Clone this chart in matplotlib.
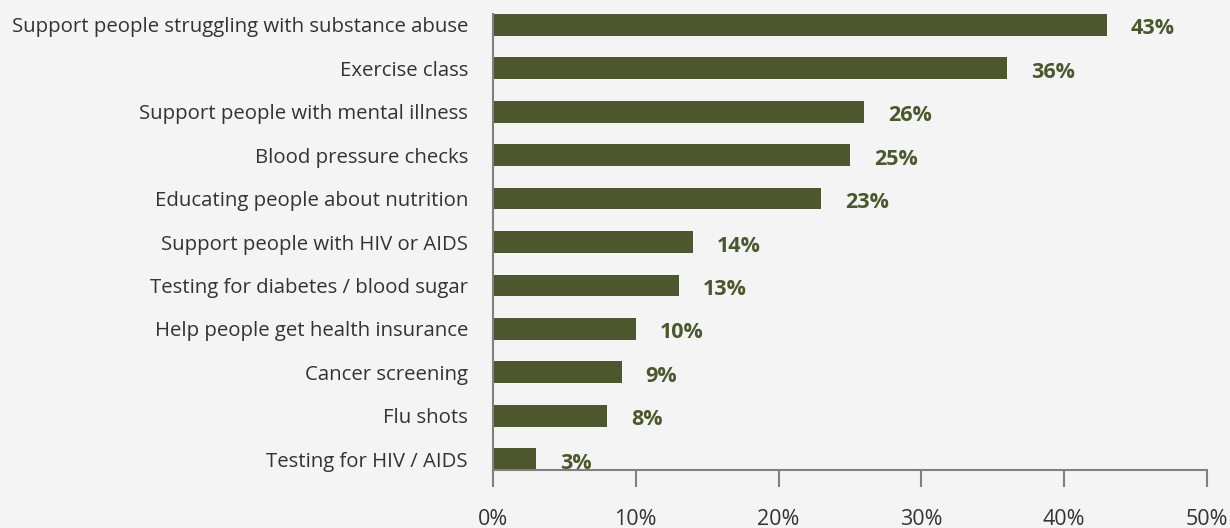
import matplotlib
matplotlib.use("Agg")
import matplotlib.pyplot as plt
from matplotlib.ticker import FixedLocator, FuncFormatter

categories = [
    "Support people struggling with substance abuse",
    "Exercise class",
    "Support people with mental illness",
    "Blood pressure checks",
    "Educating people about nutrition",
    "Support people with HIV or AIDS",
    "Testing for diabetes / blood sugar",
    "Help people get health insurance",
    "Cancer screening",
    "Flu shots",
    "Testing for HIV / AIDS",
]
values = [43, 36, 26, 25, 23, 14, 13, 10, 9, 8, 3]
xticks = [0, 10, 20, 30, 40, 50]

bg = "#f3f4f3"
bar_color = "#4d562c"
text_color = "#333333"
spine_color = "#808080"

plt.rcParams['font.family'] = ['Open Sans', 'DejaVu Sans']

fig = plt.figure(figsize=(12.3, 5.28), dpi=100, facecolor=bg)
ax = fig.add_axes([0.4008, 0.1098, 0.5805, 0.8637], facecolor=bg)

ypos = list(range(len(categories)))
ax.barh(ypos, values, height=0.5, color=bar_color, edgecolor='none')
for y, v in zip(ypos, values):
    ax.annotate(f"{v}%", xy=(v, y), xytext=(24, -4), textcoords='offset pixels',
                ha='left', va='center', fontsize=15.5, fontweight='bold', color=bar_color)

ax.set_ylim(10.25, -0.25)
ax.set_xlim(0, 50)
ax.set_yticks(ypos)
ax.set_yticklabels(categories, fontsize=14.7, color=text_color)
ax.tick_params(axis='y', length=0, pad=18)
ax.xaxis.set_major_locator(FixedLocator(xticks))
ax.xaxis.set_major_formatter(FuncFormatter(lambda x, p: f"{int(x)}%"))
ax.tick_params(axis='x', direction='out', length=12, width=1.5, color=spine_color,
               labelsize=15.5, labelcolor=text_color, pad=16)

for s in ['top', 'right']:
    ax.spines[s].set_visible(False)
for s in ['left', 'bottom']:
    ax.spines[s].set_color(spine_color)
    ax.spines[s].set_linewidth(1.5)

fig.savefig("out.png", dpi=100, facecolor=bg)
